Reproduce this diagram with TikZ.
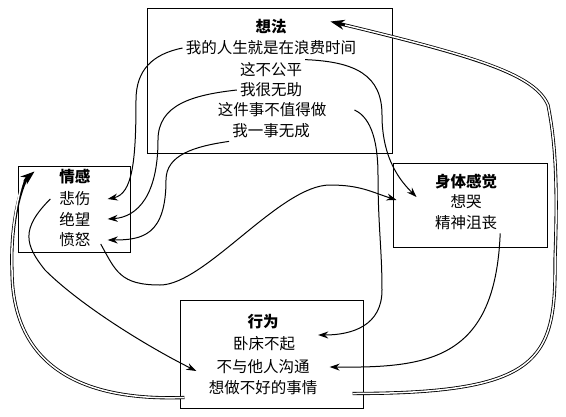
\documentclass[tikz,border=0pt]{standalone}
\usepackage{fontspec}
\usepackage{tikz}
\usetikzlibrary{arrows.meta}
\newfontfamily\cjk{Noto Sans CJK SC}

\begin{document}
\begin{tikzpicture}[x=1pt,y=-1pt,every node/.style={font=\cjk\fontsize{15.5}{18}\selectfont,inner sep=3pt}]
      \tikzstyle{box}=[draw,line width=1pt,inner sep=0pt];
      \tikzstyle{conn}=[-{Stealth[length=10pt,width=7pt]},line width=1pt];
      \tikzstyle{feedback}=[-{Stealth[length=14pt,width=10pt]},line width=3.2pt,
                       postaction={draw=white,line width=1.5pt,-,shorten >=15pt}];
      \useasboundingbox (0,0) rectangle (566,416);
      \node[box,minimum width=245pt,minimum height=145pt] (thought) at (269.5,80.5) {};
      \node[box,minimum width=112pt,minimum height=86pt]  (emotion) at (74,209) {};
      \node[box,minimum width=154pt,minimum height=84pt]  (body)    at (470,205) {};
      \node[box,minimum width=183pt,minimum height=108pt] (action)  at (271.5,354) {};
      \node[font=\cjk\bfseries\fontsize{15.5}{18}\selectfont] (thoughttitle) at (271,27) {想法};
      \node (t1) at (271,48)  {我的人生就是在浪费时间};
      \node (t2) at (271,70)  {这不公平};
      \node (t3) at (271,90)  {我很无助};
      \node (t4) at (272,110) {这件事不值得做};
      \node (t5) at (271,131) {我一事无成};
      \node[font=\cjk\bfseries\fontsize{15.5}{18}\selectfont] (emotiontitle) at (75,177) {情感};
      \node (e1) at (75,199) {悲伤};
      \node (e2) at (75,219) {绝望};
      \node (e3) at (75,240) {愤怒};
      \node[font=\cjk\bfseries\fontsize{15.5}{18}\selectfont] (bodytitle) at (466,182) {身体感觉};
      \node (b1) at (466,202) {想哭};
      \node (b2) at (466,223) {精神沮丧};
      \node[font=\cjk\bfseries\fontsize{15.5}{18}\selectfont] (actiontitle) at (263,322) {行为};
      \node (a1) at (264,344) {卧床不起};
      \node (a2) at (263,367) {不与他人沟通};
      \node (a3) at (263,388) {想做不好的事情};
      \draw[conn] (t1.west) .. controls +(-30,6) and +(0,-30) .. (136,100)
           .. controls +(0,60) and +(25,-5) .. ([xshift=14pt]e1.east);
      \draw[conn] (t3.west) .. controls +(-45,5) and +(0,-35) .. (158,140)
           .. controls +(0,55) and +(30,-2) .. ([xshift=14pt]e2.east);
      \draw[conn] (t5.south west) .. controls +(-35,5) and +(0,-25) .. (166,180)
           .. controls +(0,55) and +(35,0) .. ([xshift=14pt]e3.east);
      \draw[conn] ([shift={(7,4)}]e3.east) .. controls +(15,27) and +(-40,0) .. (160,285)
           .. controls +(45,0) and +(-50,0) .. (330,185)
           .. controls +(30,0) and +(-25,-8) .. ([shift={(4,-5)}]body.west);
      \draw[conn] (t2.north east) .. controls +(50,2) and +(0,-40) .. (382,115)
           .. controls +(0,45) and +(-15,-15) .. ([shift={(24,-8)}]body.west);
      \draw[conn] ([xshift=25pt]t4.east) .. controls +(18,8) and +(0,-30) .. (378,175)
           .. controls +(0,50) and +(0,-40) .. (382,290)
           .. controls +(0,35) and +(35,0) .. ([shift={(20,-9)}]a1.east);
      \draw[conn] (b2.south east) .. controls +(-5,126) and +(100,1) .. ([xshift=17pt]a2.east);
      \draw[conn] ([xshift=-6pt]e1.west) .. controls +(-30,30) and +(-20,-25) .. (45,270)
           .. controls +(35,35) and +(-50,-25) .. ([shift={(-17,4)}]a2.west);
      \draw[feedback] ([shift={(5,-11)}]action.south west) .. controls +(-135,5) and +(0,70) .. (12,270)
           .. controls +(-2,-50) and +(-12,10) .. ([shift={(17,6)}]emotion.north west);
      \draw[feedback] ([shift={(-11,-15)}]action.south east) .. controls +(188,0) and +(1,100) .. (555,260)
           .. controls +(3,-80) and +(7,35) .. (548,105)
           .. controls +(-13,-30) and +(150,36) .. ([shift={(-62,14)}]thought.north east);
    \end{tikzpicture}
\end{document}
